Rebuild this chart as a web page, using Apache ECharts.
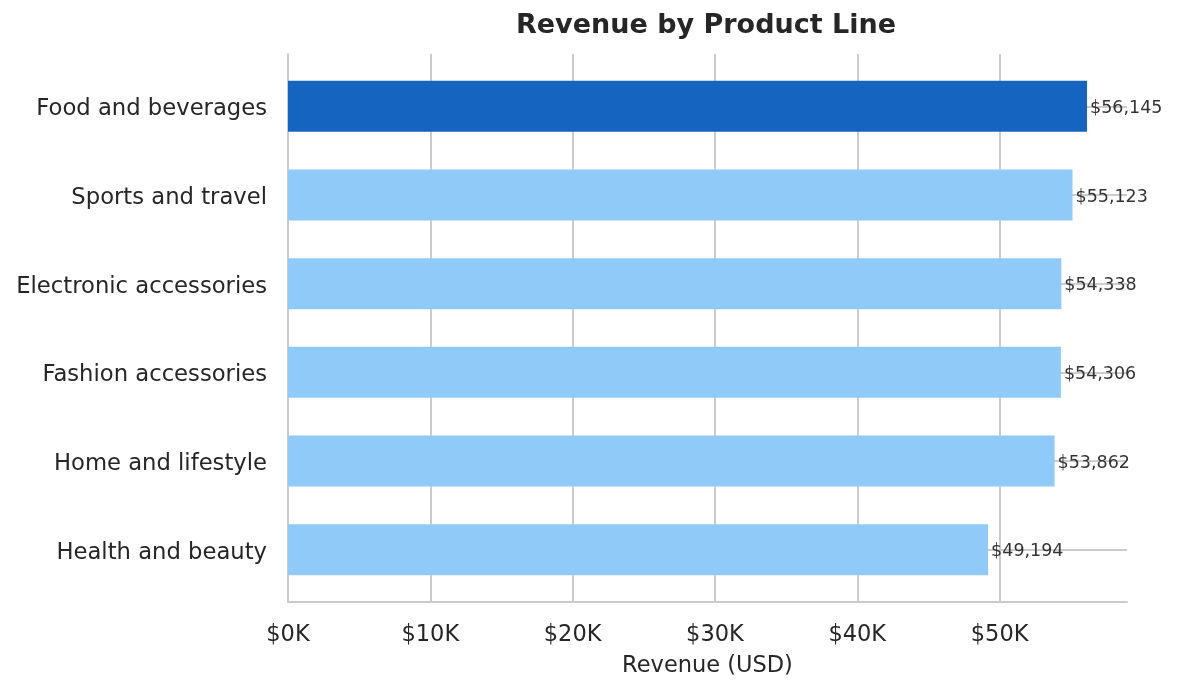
<!DOCTYPE html>
<html>
<head>
<meta charset="utf-8">
<script src="https://cdn.jsdelivr.net/npm/echarts@6/dist/echarts.min.js"></script>
<style>
  html, body { margin: 0; padding: 0; background: #ffffff; }
  #chart { width: 1178px; height: 692px; }
</style>
</head>
<body>
<div id="chart"></div>
<script>
const categories = ['Health and beauty', 'Home and lifestyle', 'Fashion accessories', 'Electronic accessories', 'Sports and travel', 'Food and beverages'];
const revenue = [49194, 53862, 54306, 54338, 55123, 56145];
const xTickStep = 10000;
const xMax = 58952;

const FONT = 'DejaVu Sans';
const TEXT = '#262626';
const GRIDC = '#cccccc';
const topVal = Math.max.apply(null, revenue);

const barData = revenue.map(v => ({
  value: v,
  itemStyle: { color: v === topVal ? '#1565C0' : '#90CAF9' }
}));

const chart = echarts.init(document.getElementById('chart'), null, { renderer: 'canvas' });
chart.setOption({
  animation: false,
  backgroundColor: '#ffffff',
  title: {
    text: 'Revenue by Product Line',
    left: 516, top: 12, padding: 0,
    textStyle: { fontFamily: FONT, fontSize: 27, fontWeight: 'bold', color: TEXT }
  },
  grid: [
    { left: 288, right: 51, top: 54, bottom: 90 },
    { left: 288, right: 51, top: 62, bottom: 98 }
  ],
  xAxis: [
    {
      gridIndex: 0, type: 'value', min: 0, max: xMax, interval: xTickStep,
      axisLine: { show: true, onZero: false, lineStyle: { color: GRIDC, width: 2 } },
      axisTick: { show: false },
      splitLine: { show: true, lineStyle: { color: [GRIDC, GRIDC, GRIDC, GRIDC, GRIDC, GRIDC, 'rgba(0,0,0,0)'], width: 2 } },
      axisLabel: {
        showMaxLabel: false, margin: 22,
        fontFamily: FONT, fontSize: 22.5, color: TEXT,
        formatter: v => (v % xTickStep === 0 ? '$' + (v / 1000) + 'K' : '')
      },
      name: 'Revenue (USD)', nameLocation: 'middle', nameGap: 53,
      nameTextStyle: { fontFamily: FONT, fontSize: 22.5, color: TEXT }
    },
    {
      gridIndex: 1, type: 'value', min: 0, max: xMax, show: false
    }
  ],
  yAxis: [
    {
      gridIndex: 0, type: 'value', min: 0, max: 1,
      axisLine: { show: true, lineStyle: { color: GRIDC, width: 2 } },
      axisTick: { show: false }, axisLabel: { show: false }, splitLine: { show: false }
    },
    {
      gridIndex: 1, type: 'category', data: categories,
      axisLine: { show: false }, axisTick: { show: false }, splitLine: { show: false },
      axisLabel: {
        margin: 21, fontFamily: FONT, fontSize: 22.7, color: TEXT,
        formatter: v => '{c|' + v + '}',
        rich: { c: { fontFamily: FONT, fontSize: 22.7, color: TEXT, padding: [6, 0, 0, 0] } }
      }
    }
  ],
  series: [
    {
      type: 'line', xAxisIndex: 1, yAxisIndex: 1, data: revenue,
      showSymbol: false, silent: true, lineStyle: { width: 0, opacity: 0 }, z: 1,
      markLine: {
        silent: true, z: 1, symbol: ['none', 'none'],
        label: { show: false },
        lineStyle: { color: GRIDC, width: 2, type: 'solid' },
        data: categories.map(c => ({ yAxis: c }))
      }
    },
    {
      type: 'bar', xAxisIndex: 1, yAxisIndex: 1, data: barData, barWidth: 51, z: 2,
      label: {
        show: true, position: 'right', distance: 3, offset: [0, 2],
        fontFamily: FONT, fontSize: 17.5, color: '#333333',
        formatter: p => '$' + p.value.toLocaleString('en-US')
      }
    }
  ]
});
</script>
</body>
</html>
